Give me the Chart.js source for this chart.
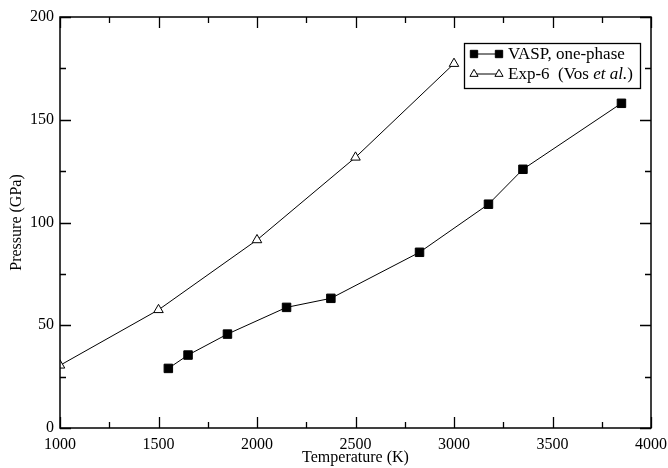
<!DOCTYPE html>
<html>
<head>
<meta charset="utf-8">
<style>
  html, body { margin: 0; padding: 0; background: #fff; }
  #wrap { width: 668px; height: 468px; }
</style>
<script src="https://cdn.jsdelivr.net/npm/chart.js@4/dist/chart.umd.min.js"></script>
</head>
<body>
<div id="wrap"><canvas id="chart" width="668" height="468"></canvas></div>
<script>
// 数据
const vaspTemps = [1550, 1650, 1850, 2150, 2375, 2825, 3175, 3350, 3850];
const vaspPress = [29, 35.5, 45.7, 58.7, 63.1, 85.5, 108.9, 125.9, 158];
const expTemps = [1000, 1500, 2000, 2500, 3000];
const expPress = [30.5, 57.5, 91.5, 131.7, 177.3];
const seriesNames = ['VASP, one-phase', 'Exp-6  (Vos et al.)'];
const xTicks = [1000, 1500, 2000, 2500, 3000, 3500, 4000];
const yTicks = [0, 50, 100, 150, 200];

const FONT = '"Liberation Serif", "Times New Roman", serif';

function toPoints(xs, ys) {
    return xs.map((x, i) => ({ x: x, y: ys[i] }));
}

// 内向刻度 + 边框
const frameTicks = {
    id: 'frameTicks',
    afterDraw(chart) {
        const { ctx, chartArea: a, scales: { x, y } } = chart;
        ctx.save();
        ctx.strokeStyle = '#000';
        ctx.lineWidth = 1.5;
        ctx.strokeRect(a.left, a.top, a.right - a.left, a.bottom - a.top);
        ctx.lineWidth = 1.3;
        ctx.beginPath();
        for (let v = 1000; v <= 4000; v += 250) {
            const px = Math.round(x.getPixelForValue(v)) + 0.5;
            const len = (v % 500 === 0) ? 11 : 6;
            ctx.moveTo(px, a.bottom); ctx.lineTo(px, a.bottom - len);
            ctx.moveTo(px, a.top); ctx.lineTo(px, a.top + len);
        }
        for (let v = 0; v <= 200; v += 25) {
            const py = Math.round(y.getPixelForValue(v)) + 0.5;
            const len = (v % 50 === 0) ? 11 : 6;
            ctx.moveTo(a.left, py); ctx.lineTo(a.left + len, py);
            ctx.moveTo(a.right, py); ctx.lineTo(a.right - len, py);
        }
        ctx.stroke();
        ctx.restore();
    }
};

// 图例（带斜体 et al.）
const boxLegend = {
    id: 'boxLegend',
    afterDraw(chart) {
        const ctx = chart.ctx;
        const bx = 464, by = 43, bw = 176, bh = 45;
        ctx.save();
        ctx.fillStyle = '#fff';
        ctx.fillRect(bx, by, bw, bh);
        ctx.strokeStyle = '#000';
        ctx.lineWidth = 1.3;
        ctx.strokeRect(bx + 0.5, by + 0.5, bw, bh);
        const rows = [54, 74];
        chart.data.datasets.forEach((ds, i) => {
            const yy = rows[i];
            ctx.strokeStyle = '#000';
            ctx.lineWidth = 1;
            ctx.beginPath();
            ctx.moveTo(474, yy); ctx.lineTo(499, yy);
            ctx.stroke();
            [474, 499].forEach(px => {
                ctx.fillStyle = ds.pointBackgroundColor;
                ctx.strokeStyle = '#000';
                ctx.lineWidth = 1;
                Chart.helpers.drawPoint(ctx, {
                    pointStyle: ds.pointStyle,
                    radius: ds.pointRadius - 0.8,
                    borderWidth: 1
                }, px, yy);
            });
            // 文本
            ctx.fillStyle = '#000';
            ctx.textBaseline = 'middle';
            let tx = 508;
            const name = seriesNames[i];
            const idx = name.indexOf('et al.');
            const parts = idx < 0 ? [[name, false]] :
                [[name.slice(0, idx), false], ['et al.', true], [name.slice(idx + 6), false]];
            parts.forEach(([t, it]) => {
                ctx.font = (it ? 'italic ' : '') + '17px ' + FONT;
                ctx.fillText(t, tx, yy + 1);
                tx += ctx.measureText(t).width;
            });
        });
        ctx.restore();
    }
};

new Chart(document.getElementById('chart'), {
    type: 'scatter',
    data: {
        datasets: [
            {
                label: seriesNames[0],
                data: toPoints(vaspTemps, vaspPress),
                showLine: true,
                borderColor: '#000',
                borderWidth: 1,
                pointStyle: 'rect',
                pointRadius: 6,
                pointBackgroundColor: '#000',
                pointBorderColor: '#000',
                pointBorderWidth: 1,
                tension: 0
            },
            {
                label: seriesNames[1],
                data: toPoints(expTemps, expPress),
                showLine: true,
                borderColor: '#000',
                borderWidth: 1,
                pointStyle: 'triangle',
                pointRadius: 5.5,
                pointBackgroundColor: '#fff',
                pointBorderColor: '#000',
                pointBorderWidth: 1,
                tension: 0
            }
        ]
    },
    options: {
        responsive: false,
        animation: false,
        layout: { padding: { top: 17, right: 17, left: 0, bottom: 0 } },
        plugins: {
            legend: { display: false },
            tooltip: { enabled: false }
        },
        scales: {
            x: {
                type: 'linear',
                min: 1000,
                max: 4000,
                afterBuildTicks: s => { s.ticks = xTicks.map(v => ({ value: v })); },
                afterFit: s => { s.height = 40; s.paddingLeft = 0; s.paddingRight = 0; },
                grid: { display: false, drawTicks: false },
                border: { display: false },
                ticks: { color: '#000', padding: 7, maxRotation: 0, callback: v => String(v), font: { family: FONT, size: 16 } },
                title: { display: true, text: 'Temperature (K)', color: '#000', padding: { top: 0, bottom: 1 }, font: { family: FONT, size: 16 } }
            },
            y: {
                type: 'linear',
                min: 0,
                max: 200,
                afterBuildTicks: s => { s.ticks = yTicks.map(v => ({ value: v })); },
                afterFit: s => { s.width = 60; s.paddingTop = 0; s.paddingBottom = 0; },
                grid: { display: false, drawTicks: false },
                border: { display: false },
                ticks: { color: '#000', padding: 6, callback: v => String(v), font: { family: FONT, size: 16 } },
                title: { display: true, text: 'Pressure (GPa)', color: '#000', padding: { top: 7, bottom: 0 }, font: { family: FONT, size: 16 } }
            }
        }
    },
    plugins: [frameTicks, boxLegend]
});
</script>
</body>
</html>
